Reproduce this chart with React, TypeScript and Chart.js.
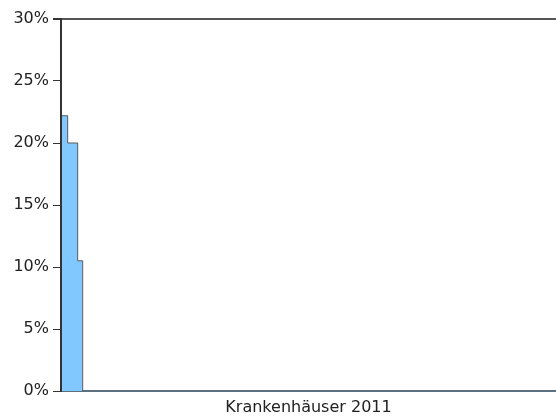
import React, { useEffect, useRef } from "react";
import { Chart, registerables } from "chart.js";

Chart.register(...registerables);

// Bin edges along the x axis (share of the horizontal range, 0..100)
const binEdges: number[] = [0, 1.35, 3.37, 4.38];
// Height of each bin in percent
const binShares: number[] = [22.2, 20.0, 10.5];
const xTitle = "Krankenhäuser 2011";
const yTickValues: number[] = [0, 5, 10, 15, 20, 25, 30];

const axisOverlay = {
  id: "axisOverlay",
  afterDatasetsDraw(chart: any) {
    const { ctx, chartArea } = chart;
    ctx.save();
    ctx.strokeStyle = "#333";
    ctx.lineWidth = 2;
    ctx.beginPath();
    ctx.moveTo(chartArea.left, chartArea.top);
    ctx.lineTo(chartArea.left, chartArea.bottom);
    ctx.stroke();
    ctx.restore();
  },
};

export default function App() {
  const ref = useRef<HTMLCanvasElement | null>(null);

  useEffect(() => {
    if (!ref.current) return;
    const points = binEdges.map((x, i) => ({
      x,
      y: i < binShares.length ? binShares[i] : 0,
    }));
    const font = { family: "'DejaVu Sans', Verdana, sans-serif", size: 16 };
    const chart = new Chart(ref.current, {
      type: "line",
      data: {
        datasets: [
          {
            data: points,
            stepped: "before",
            fill: "origin",
            backgroundColor: "#80c8ff",
            borderColor: "#5a5a5a",
            borderWidth: 1,
            pointRadius: 0,
            tension: 0,
          },
        ],
      },
      options: {
        responsive: false,
        animation: false,
        layout: { padding: { top: 19, right: 0, left: 0, bottom: 0 } },
        plugins: {
          legend: { display: false },
          tooltip: { enabled: false },
        },
        scales: {
          x: {
            type: "linear",
            min: 0,
            max: 100,
            ticks: { display: false },
            grid: { display: false, drawTicks: false },
            border: { display: true, color: "#5c6f80", width: 2 },
            title: {
              display: true,
              text: xTitle,
              color: "#222",
              font,
              padding: { top: 0, bottom: 2 },
            },
            afterFit: (s: any) => {
              s.height = 28;
            },
          },
          y: {
            min: 0,
            max: 30,
            afterBuildTicks: (s: any) => {
              s.ticks = yTickValues.map((v) => ({ value: v }));
            },
            ticks: {
              callback: (v: any) => v + "%",
              color: "#222",
              font,
              padding: 4,
            },
            grid: {
              drawOnChartArea: true,
              color: (ctx: any) =>
                ctx.tick && ctx.tick.value === 30 ? "#555" : "rgba(0,0,0,0)",
              lineWidth: (ctx: any) => (ctx.tick && ctx.tick.value === 30 ? 2 : 1),
              tickColor: "#333",
              tickLength: 8,
            },
            border: { display: true, color: "#333", width: 2 },
            afterFit: (s: any) => {
              s.width = 61;
            },
          },
        },
      },
      plugins: [axisOverlay],
    } as any);
    return () => chart.destroy();
  }, []);

  return (
    <div style={{ position: "fixed", left: 0, top: 0, width: 556, height: 419, background: "#fff" }}>
      <canvas ref={ref} width={556} height={419} />
    </div>
  );
}
